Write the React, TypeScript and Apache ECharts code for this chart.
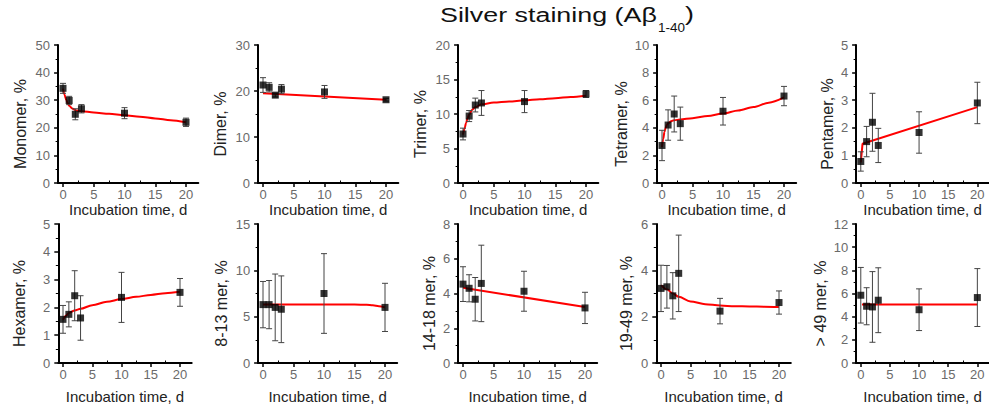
import { useEffect, useRef } from "react";
import * as echarts from "echarts";

// ---------- data ----------
const days = [0, 1, 2, 3, 10, 20];
const xTickValues = [0, 5, 10, 15, 20];
const xMinorValues = [2.5, 7.5, 12.5, 17.5];
const xAxisName = "Incubation time, d";
const titleMain = "Silver staining (Aβ";
const titleSub = "1-40";
const titleEnd = ")";

const yNames = ["Monomer, %", "Dimer, %", "Trimer, %", "Tetramer, %", "Pentamer, %", "Hexamer, %", "8-13 mer, %", "14-18 mer, %", "19-49 mer, %", "> 49 mer, %"];
const yMaxes = [50, 30, 20, 10, 5, 5, 15, 8, 6, 12];
const yIntervals = [10, 10, 5, 2, 1, 1, 5, 2, 2, 2];

const monomerMean = [34.3, 29.9, 24.9, 26.9, 25.3, 22.0];
const monomerErr = [1.8, 1.5, 2.0, 1.5, 2.0, 1.5];
const dimerMean = [21.3, 20.8, 19.1, 20.4, 19.8, 18.1];
const dimerErr = [1.6, 1.0, 0.4, 1.0, 1.4, 0.3];
const trimerMean = [7.1, 9.7, 11.3, 11.6, 11.8, 12.9];
const trimerErr = [0.85, 0.8, 1.0, 1.8, 1.6, 0.5];
const tetramerMean = [2.72, 4.2, 5.0, 4.3, 5.2, 6.3];
const tetramerErr = [1.1, 1.1, 1.3, 1.2, 1.0, 0.7];
const pentamerMean = [0.78, 1.5, 2.2, 1.36, 1.83, 2.9];
const pentamerErr = [0.35, 0.55, 1.05, 0.62, 0.75, 0.75];
const hexamerMean = [1.57, 1.75, 2.42, 1.62, 2.36, 2.54];
const hexamerErr = [0.5, 0.45, 0.9, 0.8, 0.9, 0.5];
const mer8to13Mean = [6.3, 6.3, 6.0, 5.8, 7.5, 6.0];
const mer8to13Err = [2.5, 2.6, 3.6, 3.6, 4.3, 2.6];
const mer14to18Mean = [4.54, 4.3, 3.67, 4.58, 4.13, 3.17];
const mer14to18Err = [1.0, 0.78, 1.25, 2.2, 1.15, 0.9];
const mer19to49Mean = [3.22, 3.29, 2.9, 3.87, 2.24, 2.61];
const mer19to49Err = [1.0, 0.92, 1.0, 1.65, 0.55, 0.5];
const over49Mean = [5.85, 4.9, 4.84, 5.42, 4.6, 5.65];
const over49Err = [2.4, 1.6, 3.05, 2.8, 1.8, 2.5];

// fitted curves
const monomerFitX = [0, 0.25, 0.5, 0.75, 1, 1.5, 2, 3, 5, 7.5, 10, 12.5, 15, 17.5, 20];
const monomerFitY = [34.2, 32.0, 30.3, 29.0, 28.0, 27.0, 26.4, 26.0, 25.55, 25.05, 24.55, 24.0, 23.4, 22.75, 22.0];
const dimerFitX = [0, 20];
const dimerFitY = [19.5, 18.1];
const trimerFitX = [0, 0.25, 0.5, 0.75, 1, 1.5, 2, 3, 5, 7.5, 10, 12.5, 15, 17.5, 20];
const trimerFitY = [7.0, 7.9, 8.7, 9.4, 9.9, 10.6, 11.0, 11.4, 11.65, 11.82, 11.98, 12.14, 12.3, 12.47, 12.65];
const tetramerFitX = [0, 0.2, 0.4, 0.6, 0.8, 1, 1.5, 2, 3, 5, 7.5, 10, 12.5, 15, 17.5, 20];
const tetramerFitY = [2.6, 3.2, 3.7, 4.0, 4.2, 4.33, 4.48, 4.55, 4.6, 4.7, 4.85, 5.03, 5.25, 5.5, 5.82, 6.2];
const pentamerFitX = [0, 0.3, 20];
const pentamerFitY = [0.75, 1.42, 2.75];
const hexamerFitX = [0, 0.5, 1, 2, 3, 5, 7.5, 10, 12.5, 15, 17.5, 20];
const hexamerFitY = [1.55, 1.7, 1.8, 1.89, 1.95, 2.08, 2.2, 2.3, 2.38, 2.45, 2.51, 2.56];
const mer8to13FitX = [0, 5, 10, 15, 17, 18, 19, 20];
const mer8to13FitY = [6.3, 6.3, 6.3, 6.3, 6.28, 6.22, 6.13, 6.0];
const mer14to18FitX = [0, 20];
const mer14to18FitY = [4.33, 3.22];
const mer19to49FitX = [0, 1, 2, 3, 5, 7.5, 10, 12.5, 15, 17.5, 20];
const mer19to49FitY = [3.36, 3.18, 3.0, 2.86, 2.66, 2.54, 2.48, 2.45, 2.44, 2.43, 2.42];
const over49FitX = [0.2, 20];
const over49FitY = [5.04, 5.04];

const means = [monomerMean, dimerMean, trimerMean, tetramerMean, pentamerMean, hexamerMean, mer8to13Mean, mer14to18Mean, mer19to49Mean, over49Mean];
const errs = [monomerErr, dimerErr, trimerErr, tetramerErr, pentamerErr, hexamerErr, mer8to13Err, mer14to18Err, mer19to49Err, over49Err];
const fitXs = [monomerFitX, dimerFitX, trimerFitX, tetramerFitX, pentamerFitX, hexamerFitX, mer8to13FitX, mer14to18FitX, mer19to49FitX, over49FitX];
const fitYs = [monomerFitY, dimerFitY, trimerFitY, tetramerFitY, pentamerFitY, hexamerFitY, mer8to13FitY, mer14to18FitY, mer19to49FitY, over49FitY];
const fitSmooth = [0.3, 0, 0.3, 0.3, 0, 0.3, 0.3, 0, 0.3, 0];

// ---------- layout ----------
const X_MIN = -0.8;
const X_MAX = 22;
// [pixel of x=0, pixel of x=20, top, height, y-name gap]
const layout = [
  [63, 186, 45, 138, 30],
  [263, 386, 45, 138, 30],
  [463, 586, 45, 138, 30],
  [662, 784, 45, 138, 28],
  [861, 983, 45, 138, 21],
  [63, 180, 224, 139, 31],
  [263, 385, 224, 139, 29],
  [463, 585, 224, 139, 21],
  [661, 779, 224, 139, 22],
  [861, 983, 224, 139, 28],
];

const FONT_NAME = "Liberation Sans";
const FONT = "Liberation Sans, Arial, sans-serif";
const TITLE_SIZE = 21;
const SUB_SIZE = 13;

function measure(text: string, size: number) {
  const ctx = document.createElement("canvas").getContext("2d");
  if (!ctx) return text.length * size * 0.5;
  ctx.font = `${size}px "${FONT_NAME}"`;
  return ctx.measureText(text).width;
}

function buildOption() {
  const grid: any[] = [];
  const xAxis: any[] = [];
  const yAxis: any[] = [];
  const series: any[] = [];

  layout.forEach(([p0, p20, top, height, yGap], i) => {
    const s = (p20 - p0) / 20;
    const left = p0 + X_MIN * s;
    const width = (X_MAX - X_MIN) * s;
    grid.push({ left, top, width, height });
    const topRow = i < 5;
    xAxis.push({
      gridIndex: i,
      type: "value",
      min: X_MIN,
      max: X_MAX,
      splitLine: { show: false },
      axisLine: { show: true, onZero: false, lineStyle: { color: "#000", width: 2 } },
      axisTick: { show: true, customValues: xTickValues, length: 4, lineStyle: { color: "#000", width: 1.5 } },
      axisLabel: { show: true, customValues: xTickValues, margin: 5, fontSize: 13, color: "#6a6a6a", fontFamily: FONT },
      name: xAxisName,
      nameLocation: "middle",
      nameGap: topRow ? 16 : 26,
      nameTextStyle: { fontSize: 15, color: "#222", fontFamily: FONT },
    });
    xAxis.push({
      gridIndex: i,
      type: "value",
      min: X_MIN,
      max: X_MAX,
      splitLine: { show: false },
      axisLine: { show: false },
      axisTick: { show: true, customValues: xMinorValues, length: 2.5, lineStyle: { color: "#000", width: 1 } },
      axisLabel: { show: false },
    });
    yAxis.push({
      gridIndex: i,
      type: "value",
      min: 0,
      max: yMaxes[i],
      interval: yIntervals[i],
      splitLine: { show: false },
      axisLine: { show: true, onZero: false, lineStyle: { color: "#000", width: 2 } },
      axisTick: { show: true, length: 4, lineStyle: { color: "#000", width: 1.5 } },
      minorTick: { show: true, splitNumber: 2, length: 2.5, lineStyle: { color: "#000", width: 1 } },
      axisLabel: { margin: 8, fontSize: 13, color: "#6a6a6a", fontFamily: FONT },
      name: yNames[i],
      nameLocation: "middle",
      nameGap: yGap,
      nameTextStyle: { fontSize: 16, color: "#222", fontFamily: FONT, padding: [0, 20, 0, 0] },
    });

    series.push({
      type: "line",
      xAxisIndex: 2 * i,
      yAxisIndex: i,
      data: fitXs[i].map((x, j) => [x, fitYs[i][j]]),
      symbol: "none",
      smooth: fitSmooth[i] || false,
      smoothMonotone: "x",
      lineStyle: { color: "#ff0000", width: 2 },
      z: 2,
    });
    series.push({
      type: "custom",
      xAxisIndex: 2 * i,
      yAxisIndex: i,
      data: days.map((d, j) => [d, means[i][j] - errs[i][j], means[i][j] + errs[i][j]]),
      encode: { x: 0, y: [1, 2] },
      renderItem: (_params: any, api: any) => {
        const x = api.value(0);
        const lo = api.coord([x, api.value(1)]);
        const hi = api.coord([x, api.value(2)]);
        const cap = 3;
        const style = { stroke: "#444", lineWidth: 1 };
        return {
          type: "group",
          children: [
            { type: "line", shape: { x1: lo[0], y1: lo[1], x2: hi[0], y2: hi[1] }, style },
            { type: "line", shape: { x1: lo[0] - cap, y1: lo[1], x2: lo[0] + cap, y2: lo[1] }, style },
            { type: "line", shape: { x1: hi[0] - cap, y1: hi[1], x2: hi[0] + cap, y2: hi[1] }, style },
          ],
        };
      },
      z: 3,
    });
    series.push({
      type: "scatter",
      xAxisIndex: 2 * i,
      yAxisIndex: i,
      data: days.map((d, j) => [d, means[i][j]]),
      symbol: "rect",
      symbolSize: 7,
      itemStyle: { color: "#000" },
      z: 4,
    });
  });

  // title pieces, stretched horizontally to the reference's widths
  const mainW = measure(titleMain, TITLE_SIZE);
  const subW = measure(titleSub, SUB_SIZE);
  const mainScale = 217 / mainW;
  const subScale = 27 / subW;

  return {
    animation: false,
    backgroundColor: "#fff",
    grid,
    xAxis,
    yAxis,
    series,
    graphic: [
      {
        type: "text",
        x: 440,
        y: 15,
        scaleX: mainScale,
        style: { text: titleMain, fontSize: TITLE_SIZE, fontFamily: FONT, fill: "#111", verticalAlign: "middle", align: "left" },
      },
      {
        type: "text",
        x: 658,
        y: 27.5,
        scaleX: subScale,
        style: { text: titleSub, fontSize: SUB_SIZE, fontFamily: FONT, fill: "#111", verticalAlign: "middle", align: "left" },
      },
      {
        type: "text",
        x: 685,
        y: 14,
        scaleX: mainScale,
        style: { text: titleEnd, fontSize: TITLE_SIZE, fontFamily: FONT, fill: "#111", verticalAlign: "middle", align: "left" },
      },
    ],
  };
}

export default function App() {
  const ref = useRef<HTMLDivElement>(null);
  useEffect(() => {
    if (!ref.current) return;
    const chart = echarts.init(ref.current, undefined, { renderer: "svg" });
    chart.setOption(buildOption() as any);
    return () => chart.dispose();
  }, []);
  return <div ref={ref} style={{ position: "absolute", left: 0, top: 0, width: 989, height: 406 }} />;
}
